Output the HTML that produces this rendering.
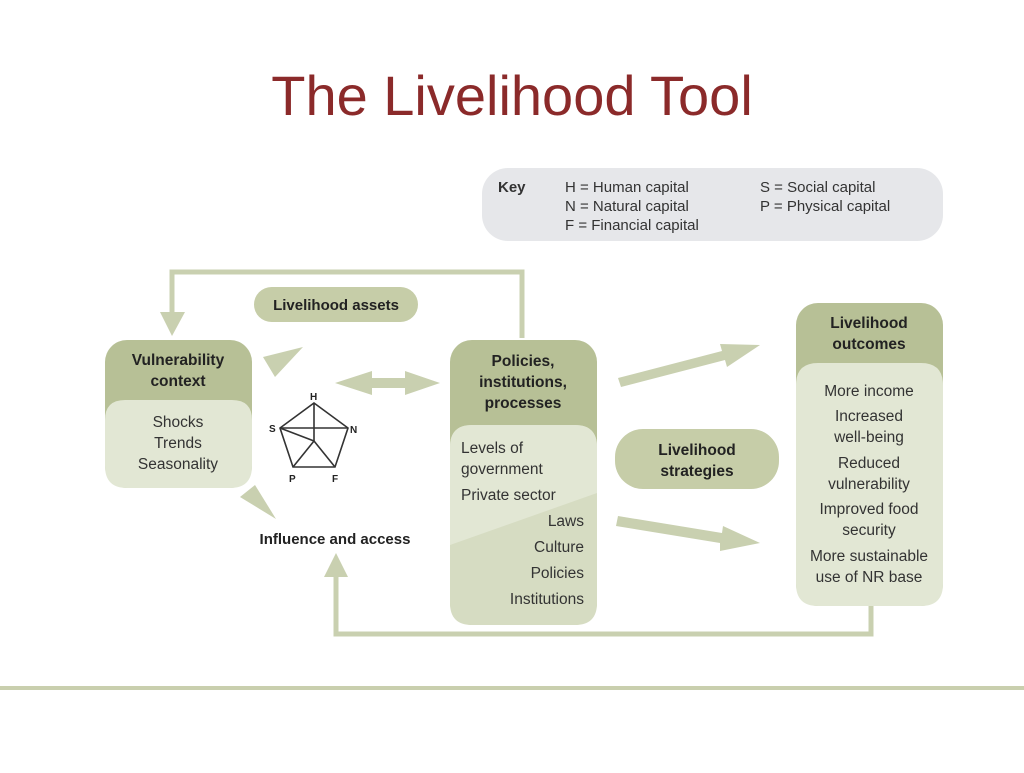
<!DOCTYPE html>
<html><head><meta charset="utf-8"><style>
body{margin:0;width:1024px;height:768px;background:#fff;overflow:hidden;font-family:"Liberation Sans",sans-serif}
</style></head><body>
<svg width="1024" height="768" xmlns="http://www.w3.org/2000/svg" font-family="'Liberation Sans',sans-serif">
<text x="512" y="115" text-anchor="middle" font-size="56" fill="#8b2a2a">The Livelihood Tool</text>
<line x1="0" y1="688" x2="1024" y2="688" stroke="#c9cfae" stroke-width="4"/>
<!-- key -->
<rect x="482" y="168" width="461" height="73" rx="26" fill="#e6e7ea"/>
<g font-size="15" fill="#333">
<text x="498" y="192" font-weight="bold">Key</text>
<text x="565" y="192">H = Human capital</text>
<text x="565" y="211">N = Natural capital</text>
<text x="565" y="230">F = Financial capital</text>
<text x="760" y="192">S = Social capital</text>
<text x="760" y="211">P = Physical capital</text>
</g>
<!-- loops -->
<g stroke="#c9d0b0" stroke-width="5" fill="none">
<polyline points="522,338 522,272 172,272 172,315"/>
<polyline points="871,606 871,634 336,634 336,575"/>
</g>
<g fill="#c9d0b0">
<polygon points="160,312 185,312 172,336"/>
<polygon points="324,577 348,577 336,553"/>
<polygon points="335,383 372,371 372,378 405,378 405,371 440,383 405,395 405,388 372,388 372,395"/>
<polygon points="618,378 722,351 720,344 760,345 727,367 725,360 621,387"/>
<polygon points="618,516 722,533 723,526 760,543 720,551 720,543 616,526"/>
<polygon points="263,357 303,347 275,377"/>
<polygon points="240,497 255,485 276,519"/>
</g>
<!-- vulnerability -->
<rect x="105" y="340" width="147" height="148" rx="22" fill="#b7c096"/>
<path d="M105,420 Q105,400 125,400 L232,400 Q252,400 252,420 L252,466 Q252,488 230,488 L127,488 Q105,488 105,466Z" fill="#e2e7d4"/>
<g font-size="15.5" fill="#222" text-anchor="middle">
<text x="178" y="365" font-weight="bold">Vulnerability</text>
<text x="178" y="386" font-weight="bold">context</text>
<text x="178" y="427" fill="#333">Shocks</text>
<text x="178" y="448" fill="#333">Trends</text>
<text x="178" y="469" fill="#333">Seasonality</text>
</g>
<!-- pentagon -->
<g stroke="#333" stroke-width="1.6" fill="none">
<polygon points="314,403 348,428 335,467 293,467 280,428"/>
<line x1="314" y1="403" x2="314" y2="441"/><line x1="280" y1="428" x2="348" y2="428"/>
<line x1="280" y1="428" x2="314" y2="441"/>
<line x1="293" y1="467" x2="314" y2="441"/><line x1="335" y1="467" x2="314" y2="441"/>
</g>
<g font-size="10" font-weight="bold" fill="#222">
<text x="310" y="400">H</text><text x="269" y="432">S</text><text x="350" y="433">N</text>
<text x="289" y="482">P</text><text x="332" y="482">F</text>
</g>
<text x="335" y="544" font-size="15" font-weight="bold" fill="#222" text-anchor="middle">Influence and access</text>
<!-- assets pill -->
<rect x="254" y="287" width="164" height="35" rx="17.5" fill="#c6cda8"/>
<text x="336" y="310" font-size="15" font-weight="bold" fill="#222" text-anchor="middle">Livelihood assets</text>
<!-- policies -->
<rect x="450" y="340" width="147" height="285" rx="22" fill="#b7c096"/>
<path d="M450,447 Q450,425 472,425 L575,425 Q597,425 597,447 L597,603 Q597,625 575,625 L472,625 Q450,625 450,603Z" fill="#d6dcc2"/>
<path d="M450,447 Q450,425 472,425 L575,425 Q597,425 597,447 L597,493 L450,545Z" fill="#e2e7d4"/>
<g font-size="15.5" fill="#222">
<g text-anchor="middle" font-weight="bold">
<text x="523" y="366">Policies,</text><text x="523" y="387">institutions,</text><text x="523" y="408">processes</text></g>
<g fill="#333">
<text x="461" y="453">Levels of</text><text x="461" y="474">government</text><text x="461" y="500">Private sector</text>
<g text-anchor="end"><text x="584" y="526">Laws</text><text x="584" y="552">Culture</text><text x="584" y="578">Policies</text><text x="584" y="604">Institutions</text></g>
</g></g>
<!-- strategies pill -->
<rect x="615" y="429" width="164" height="60" rx="28" fill="#c6cda8"/>
<g font-size="15.5" font-weight="bold" fill="#222" text-anchor="middle">
<text x="697" y="455">Livelihood</text><text x="697" y="476">strategies</text></g>
<!-- outcomes -->
<rect x="796" y="303" width="147" height="303" rx="22" fill="#b7c096"/>
<path d="M796,385 Q796,363 818,363 L921,363 Q943,363 943,385 L943,584 Q943,606 921,606 L818,606 Q796,606 796,584Z" fill="#e2e7d4"/>
<g font-size="15.5" fill="#333" text-anchor="middle">
<text x="869" y="328" font-weight="bold" fill="#222">Livelihood</text>
<text x="869" y="349" font-weight="bold" fill="#222">outcomes</text>
<text x="869" y="396">More income</text>
<text x="869" y="421">Increased</text><text x="869" y="442">well-being</text>
<text x="869" y="468">Reduced</text><text x="869" y="489">vulnerability</text>
<text x="869" y="514">Improved food</text><text x="869" y="535">security</text>
<text x="869" y="561">More sustainable</text><text x="869" y="582">use of NR base</text>
</g>
</svg>
</body></html>
